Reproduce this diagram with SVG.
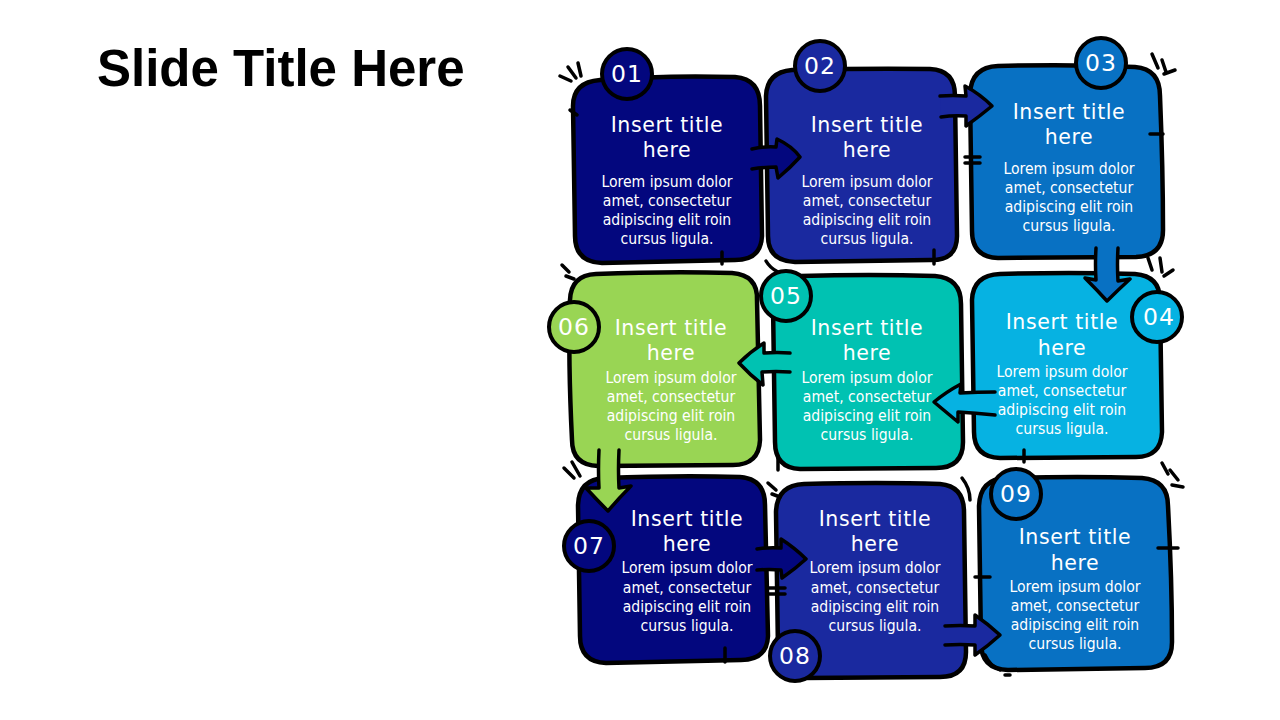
<svg xmlns="http://www.w3.org/2000/svg" width="1280" height="720" viewBox="0 0 1280 720">
<style>
.box{stroke:#000;stroke-width:4.5;stroke-linejoin:round}
.num{stroke:#000;stroke-width:4}
.arr{stroke:#000;stroke-width:3.5;stroke-linejoin:round;stroke-linecap:round}
.tick{stroke:#000;stroke-width:3.5;stroke-linecap:round;fill:none}
.t{font-family:"DejaVu Sans",sans-serif;font-size:20.5px;fill:#fff;text-anchor:middle;letter-spacing:0.6px}
.b{font-family:"DejaVu Sans Condensed","DejaVu Sans",sans-serif;font-size:15.6px;fill:#fff;text-anchor:middle}
.n{font-family:"DejaVu Sans",sans-serif;font-size:23.5px;fill:#fff;text-anchor:middle;letter-spacing:1px}
.c1{fill:#03077E}.c2{fill:#1A299F}.c3{fill:#0871C3}.c4{fill:#06B2E2}.c5{fill:#00C2B2}.c6{fill:#99D554}
</style>
<rect width="1280" height="720" fill="#fff"/>
<text x="97" y="86" font-family="Liberation Sans,Arial,sans-serif" font-weight="bold" font-size="51" fill="#000">Slide Title Here</text>

<g id="node1">
<path class="box c1" d="M600,80 Q665,75 735,77 Q760,79 760,106 L762,236 Q761,260 735,260 L602,263 Q575,262 575,236 L573,106 Q573,82 600,80 Z"/>
<circle class="num c1" cx="627" cy="74" r="25"/>
<text class="n" x="627" y="82">01</text>
<text class="t" x="667" y="132">Insert title</text><text class="t" x="667" y="157">here</text>
<text class="b" x="667" y="187">Lorem ipsum dolor</text><text class="b" x="667" y="206">amet, consectetur</text><text class="b" x="667" y="225">adipiscing elit roin</text><text class="b" x="667" y="244">cursus ligula.</text>
</g>
<g id="node2">
<path class="box c2" d="M792,70 Q870,68 930,69 Q955,70 955,96 L957,236 Q957,261 930,260 L795,262 Q768,261 768,236 L766,96 Q767,72 792,70 Z"/>
<circle class="num c2" cx="820" cy="66" r="25"/>
<text class="n" x="820" y="74">02</text>
<text class="t" x="867" y="132">Insert title</text><text class="t" x="867" y="157">here</text>
<text class="b" x="867" y="187">Lorem ipsum dolor</text><text class="b" x="867" y="206">amet, consectetur</text><text class="b" x="867" y="225">adipiscing elit roin</text><text class="b" x="867" y="244">cursus ligula.</text>
</g>
<g id="node3">
<path class="box c3" d="M998,66 Q1070,64 1135,67 Q1160,69 1160,96 Q1163,170 1163,230 Q1163,256 1136,257 L998,258 Q972,257 972,231 L970,94 Q971,67 998,66 Z"/>
<circle class="num c3" cx="1101" cy="63" r="25"/>
<text class="n" x="1101" y="71">03</text>
<text class="t" x="1069" y="119">Insert title</text><text class="t" x="1069" y="144">here</text>
<text class="b" x="1069" y="174">Lorem ipsum dolor</text><text class="b" x="1069" y="193">amet, consectetur</text><text class="b" x="1069" y="212">adipiscing elit roin</text><text class="b" x="1069" y="231">cursus ligula.</text>
</g>
<g id="node4">
<path class="box c4" d="M1000,274 Q1070,272 1135,274 Q1160,276 1160,300 L1162,432 Q1161,457 1136,457 L1000,458 Q974,457 974,432 L972,300 Q973,275 1000,274 Z"/>
<circle class="num c4" cx="1157" cy="317" r="25"/>
<text class="n" x="1159" y="325">04</text>
<text class="t" x="1062" y="329">Insert title</text><text class="t" x="1062" y="355">here</text>
<text class="b" x="1062" y="377">Lorem ipsum dolor</text><text class="b" x="1062" y="396">amet, consectetur</text><text class="b" x="1062" y="415">adipiscing elit roin</text><text class="b" x="1062" y="434">cursus ligula.</text>
</g>
<g id="node5">
<path class="box c5" d="M800,276 Q870,274 935,276 Q961,278 961,304 L963,442 Q963,468 936,468 L800,469 Q775,468 775,442 L773,304 Q774,277 800,276 Z"/>
<circle class="num c5" cx="786" cy="296" r="25"/>
<text class="n" x="786" y="304">05</text>
<text class="t" x="867" y="335">Insert title</text><text class="t" x="867" y="360">here</text>
<text class="b" x="867" y="383">Lorem ipsum dolor</text><text class="b" x="867" y="402">amet, consectetur</text><text class="b" x="867" y="421">adipiscing elit roin</text><text class="b" x="867" y="440">cursus ligula.</text>
</g>
<g id="node6">
<path class="box c6" d="M596,274 Q670,271 732,273 Q758,275 757,300 L760,440 Q759,465 733,465 L598,466 Q572,465 572,440 Q568,360 570,300 Q571,275 596,274 Z"/>
<circle class="num c6" cx="574" cy="327" r="25"/>
<text class="n" x="574" y="335">06</text>
<text class="t" x="671" y="335">Insert title</text><text class="t" x="671" y="360">here</text>
<text class="b" x="671" y="383">Lorem ipsum dolor</text><text class="b" x="671" y="402">amet, consectetur</text><text class="b" x="671" y="421">adipiscing elit roin</text><text class="b" x="671" y="440">cursus ligula.</text>
</g>
<g id="node7">
<path class="box c1" d="M605,478 Q680,475 740,477 Q765,479 765,505 L768,636 Q767,660 741,660 L606,663 Q580,662 580,636 L578,505 Q579,479 605,478 Z"/>
<circle class="num c1" cx="589" cy="546" r="25"/>
<text class="n" x="589" y="554">07</text>
<text class="t" x="687" y="526">Insert title</text><text class="t" x="687" y="551">here</text>
<text class="b" x="687" y="573">Lorem ipsum dolor</text><text class="b" x="687" y="593">amet, consectetur</text><text class="b" x="687" y="612">adipiscing elit roin</text><text class="b" x="687" y="631">cursus ligula.</text>
</g>
<g id="node8">
<path class="box c2" d="M804,484 Q880,482 940,484 Q964,486 964,512 L966,652 Q966,677 940,677 L804,678 Q778,677 778,652 L776,512 Q777,485 804,484 Z"/>
<circle class="num c2" cx="795" cy="656" r="25"/>
<text class="n" x="795" y="664">08</text>
<text class="t" x="875" y="526">Insert title</text><text class="t" x="875" y="551">here</text>
<text class="b" x="875" y="573">Lorem ipsum dolor</text><text class="b" x="875" y="593">amet, consectetur</text><text class="b" x="875" y="612">adipiscing elit roin</text><text class="b" x="875" y="631">cursus ligula.</text>
</g>
<g id="node9">
<path class="box c3" d="M1006,478 Q1080,476 1142,478 Q1168,480 1168,506 Q1172,580 1172,642 Q1172,668 1145,668 L1008,670 Q981,669 981,643 L979,506 Q980,479 1006,478 Z"/>
<circle class="num c3" cx="1016" cy="494" r="25"/>
<text class="n" x="1016" y="502">09</text>
<text class="t" x="1075" y="544">Insert title</text><text class="t" x="1075" y="570">here</text>
<text class="b" x="1075" y="592">Lorem ipsum dolor</text><text class="b" x="1075" y="611">amet, consectetur</text><text class="b" x="1075" y="630">adipiscing elit roin</text><text class="b" x="1075" y="649">cursus ligula.</text>
</g>

<g id="connectors">
<path class="arr c1" d="M752,149 Q765,146 776,147 L777,139 Q792,146 800,157 Q790,168 778,178 L776,167 Q765,167 752,169"/>
<path class="arr c2" d="M940,96 Q953,95 966,96 L965,86 Q980,94 992,106 Q980,116 966,126 L966,116 Q953,115 941,117"/>
<path class="arr c3" d="M1096,248 Q1095,265 1096,280 L1085,278 Q1097,290 1107,301 Q1118,290 1130,279 L1118,281 Q1117,265 1118,248"/>
<path class="arr c4" d="M995,392 Q978,392 960,393 L961,384 Q946,392 934,402 Q946,412 958,422 L958,412 Q975,413 995,415"/>
<path class="arr c5" d="M790,353 Q777,352 764,353 L764,343 Q750,352 739,363 Q750,375 763,385 L762,372 Q776,371 790,372"/>
<path class="arr c6" d="M599,450 Q598,470 599,488 L586,488 Q597,500 608,511 Q619,498 631,486 L619,488 Q618,470 619,450"/>
<path class="arr c1" d="M757,549 Q769,547 781,548 L781,539 Q795,548 806,559 Q795,569 782,578 L781,570 Q769,569 757,570"/>
<path class="arr c2" d="M945,626 Q960,625 975,626 L975,615 Q988,624 1000,635 Q988,646 975,655 L975,645 Q960,644 945,645"/>
</g>

<g id="sketch-marks">
<path class="tick" d="M560,76 L571,81 M568,67 L576,78 M578,63 L581,76"/>
<path class="tick" d="M1152,54 L1158,68 M1162,60 L1166,72 M1164,74 L1175,70"/>
<path class="tick" d="M1148,258 L1152,270 M1160,258 L1162,272 M1164,276 L1173,270"/>
<path class="tick" d="M562,265 L569,272 M566,276 L574,279"/>
<path class="tick" d="M564,468 L574,478 M572,462 L580,476"/>
<path class="tick" d="M768,483 L776,490 M772,494 L780,497"/>
<path class="tick" d="M1162,463 L1168,474 M1170,470 L1178,480 M1172,485 L1183,487"/>
<path class="tick" d="M962,478 Q970,488 970,500"/>
<path class="tick" d="M965,157 L980,157 M965,163 L980,163"/>
<path class="tick" d="M768,588 L785,588 M768,594 L785,594"/>
<path class="tick" d="M1150,134 L1163,134"/>
<path class="tick" d="M1158,548 L1178,548"/>
<path class="tick" d="M975,577 L990,577"/>
<path class="tick" d="M722,252 L722,264"/>
<path class="tick" d="M934,250 L934,264"/>
<path class="tick" d="M1024,450 L1024,462"/>
<path class="tick" d="M778,458 L778,470"/>
<path class="tick" d="M725,648 L725,662"/>
<path class="tick" d="M766,261 Q770,268 778,272"/>
<path class="tick" d="M985,655 Q990,666 1000,670"/>
<path class="tick" d="M1005,675 L1010,675"/>
<path class="tick" d="M570,110 L577,115"/>
</g>
</svg>
